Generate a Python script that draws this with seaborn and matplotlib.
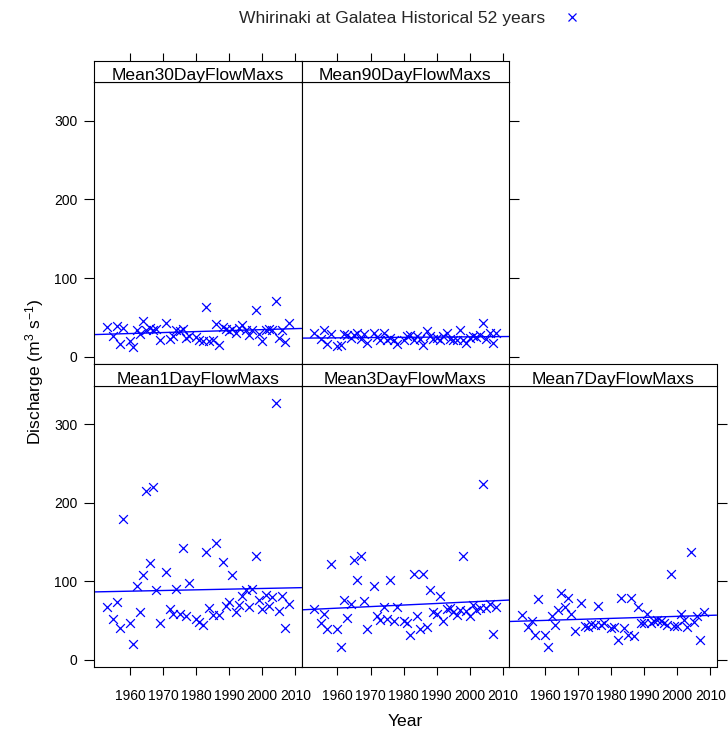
import numpy as np
import pandas as pd
import matplotlib
matplotlib.use("Agg")
import matplotlib.pyplot as plt
import seaborn as sns
from matplotlib.lines import Line2D

# Annual flow maxima, Whirinaki at Galatea
years = [1953, 1955, 1956, 1957, 1958, 1960, 1961, 1962, 1963, 1964, 1965, 1966, 1967,
         1968, 1969, 1971, 1972, 1973, 1974, 1975, 1976, 1977, 1978, 1980, 1981, 1982,
         1983, 1984, 1985, 1986, 1987, 1988, 1989, 1990, 1991, 1992, 1993, 1994, 1995,
         1996, 1997, 1998, 1999, 2000, 2001, 2002, 2003, 2004, 2005, 2006, 2007, 2008]

mean1day = [67, 52, 74, 41, 180, 47, 20, 94, 61, 108, 215, 123, 220,
            89, 47, 112, 65, 59, 90, 58, 143, 56, 98, 52, 48, 44,
            138, 66, 57, 149, 57, 125, 69, 74, 108, 61, 70, 81, 89,
            68, 90, 133, 76, 65, 83, 69, 80, 327, 62, 81, 41, 71]

mean3day = [65, 47, 58, 39, 122, 40, 17, 77, 53, 71, 127, 102, 133,
            75, 40, 94, 56, 51, 68, 52, 102, 49, 68, 49, 47, 32,
            110, 56, 39, 110, 42, 89, 61, 59, 81, 50, 65, 66, 61,
            57, 64, 133, 62, 56, 70, 63, 66, 224, 66, 71, 33, 67]

mean7day = [57, 42, 49, 32, 78, 32, 17, 56, 45, 64, 85, 68, 79,
            59, 37, 73, 43, 42, 46, 45, 69, 45, 47, 41, 42, 26,
            79, 41, 32, 79, 31, 68, 47, 47, 58, 47, 49, 51, 49,
            47, 45, 109, 43, 43, 59, 51, 42, 138, 48, 56, 26, 61]

mean30day = [38, 27, 39, 17, 37, 20, 13, 34, 29, 45, 34, 37, 34,
             35, 22, 43, 23, 27, 34, 33, 35, 24, 27, 25, 22, 20,
             63, 20, 22, 42, 15, 38, 35, 33, 35, 31, 37, 41, 34,
             28, 34, 59, 29, 20, 34, 35, 34, 71, 24, 34, 19, 43]

mean90day = [31, 23, 34, 17, 29, 14, 15, 29, 28, 24, 28, 30, 23,
             29, 18, 30, 25, 21, 30, 22, 24, 21, 17, 21, 26, 28,
             22, 26, 23, 15, 33, 26, 23, 24, 22, 27, 30, 23, 21,
             22, 34, 22, 18, 24, 26, 25, 28, 43, 23, 31, 18, 30]

panel_names = ["Mean30DayFlowMaxs", "Mean90DayFlowMaxs",
               "Mean1DayFlowMaxs", "Mean3DayFlowMaxs", "Mean7DayFlowMaxs"]
panel_values = [mean30day, mean90day, mean1day, mean3day, mean7day]

legend_label = "Whirinaki at Galatea Historical 52 years"
x_ticks = [1960, 1970, 1980, 1990, 2000, 2010]
y_ticks = [0, 100, 200, 300]

df = pd.DataFrame({
    "Year": np.tile(years, len(panel_names)),
    "Discharge": np.concatenate(panel_values),
    "Statistic": np.repeat(panel_names, len(years)),
})

sns.set_theme(style="white")
plt.rcParams["font.family"] = ["Liberation Sans", "DejaVu Sans"]
plt.rcParams["mathtext.fontset"] = "custom"
plt.rcParams["mathtext.rm"] = "Liberation Sans"
plt.rcParams["mathtext.it"] = "Liberation Sans:italic"

BLUE = "#0000FF"
FS = 12.6
TFS = 10

W, H = 728, 733
fig = plt.figure(figsize=(W / 100, H / 100), dpi=100)


def px_axes(x0, y0, x1, y1):
    return fig.add_axes([x0 / W, 1 - y1 / H, (x1 - x0) / W, (y1 - y0) / H])


# lattice-style limits: data range padded by 7% on each side
def padded(lo, hi, f=0.07):
    r = hi - lo
    return lo - f * r, hi + f * r


xlim = padded(df["Year"].min(), df["Year"].max())
ylim = padded(df["Discharge"].min(), df["Discharge"].max())

col_x = [94, 301.5, 509]
col_w = 207.5
rows = {0: (82, 364), 1: (386, 667)}
strips = {0: (60.5, 82), 1: (364, 386)}

# (name, column, row)
layout = [("Mean30DayFlowMaxs", 0, 0), ("Mean90DayFlowMaxs", 1, 0),
          ("Mean1DayFlowMaxs", 0, 1), ("Mean3DayFlowMaxs", 1, 1),
          ("Mean7DayFlowMaxs", 2, 1)]
last_col = {0: 1, 1: 2}

tick_kw = dict(direction="out", width=0.8, color="black",
               labelsize=TFS, labelcolor="black")

for name, c, r in layout:
    x0 = col_x[c]
    y0, y1 = rows[r]
    ax = px_axes(x0, y0, x0 + col_w, y1)
    sub = df[df["Statistic"] == name]
    ax.set_xlim(xlim)
    ax.set_ylim(ylim)
    sns.scatterplot(data=sub, x="Year", y="Discharge", marker="x", color=BLUE,
                    s=40, linewidth=0.9, ax=ax, zorder=3)
    sns.regplot(data=sub, x="Year", y="Discharge", scatter=False, ci=None,
                truncate=False, color=BLUE, line_kws={"lw": 1.0}, ax=ax)
    ax.set_xlim(xlim)
    ax.set_ylim(ylim)
    ax.set_xlabel("")
    ax.set_ylabel("")
    ax.set_facecolor("white")
    for sp in ax.spines.values():
        sp.set_visible(True)
        sp.set_color("black")
        sp.set_linewidth(0.8)
    ax.set_xticks(x_ticks)
    ax.set_yticks(y_ticks)
    ax.tick_params(axis="both", which="both", left=False, right=False,
                   top=False, bottom=False, labelleft=False, labelright=False,
                   labeltop=False, labelbottom=False, **tick_kw)
    ax.tick_params(axis="y", length=7)
    ax.tick_params(axis="x", length=6)
    if c == 0:
        ax.tick_params(axis="y", left=True, labelleft=True, pad=5)
    if c == last_col[r]:
        ax.tick_params(axis="y", right=True)
    if r == 1:
        ax.tick_params(axis="x", bottom=True, labelbottom=True, pad=9.5)

    # strip with panel name
    s0, s1 = strips[r]
    sax = px_axes(x0, s0, x0 + col_w, s1)
    sax.set_xlim(xlim)
    sax.set_ylim(0, 1)
    sax.set_facecolor("white")
    sax.set_yticks([])
    for sp in sax.spines.values():
        sp.set_visible(True)
        sp.set_color("black")
        sp.set_linewidth(0.8)
    sax.set_xticks(x_ticks)
    sax.tick_params(axis="x", bottom=False, labelbottom=False, top=(r == 0),
                    labeltop=False, length=6, **tick_kw)
    sax.text(0.5, 0.1, name, transform=sax.transAxes, ha="center",
             va="baseline", fontsize=FS, color="black")

fig.text(405 / W, 1 - 722 / H, "Year", ha="center", va="center", fontsize=FS,
         color="black")
fig.text(35 / W, 1 - 372 / H, "Discharge (m$^{3}$ s$^{-1}$)", rotation=90,
         ha="center", va="center", fontsize=FS, color="black")

handle = Line2D([], [], marker="x", linestyle="", color=BLUE, markersize=6,
                markeredgewidth=0.9)
fig.legend(handles=[handle], labels=[legend_label], markerfirst=False,
           frameon=False, loc="center", bbox_to_anchor=(410 / W, 1 - 18 / H),
           fontsize=FS, handlelength=1.0, handletextpad=1.0)

fig.savefig("out.png", dpi=100, facecolor="white")
